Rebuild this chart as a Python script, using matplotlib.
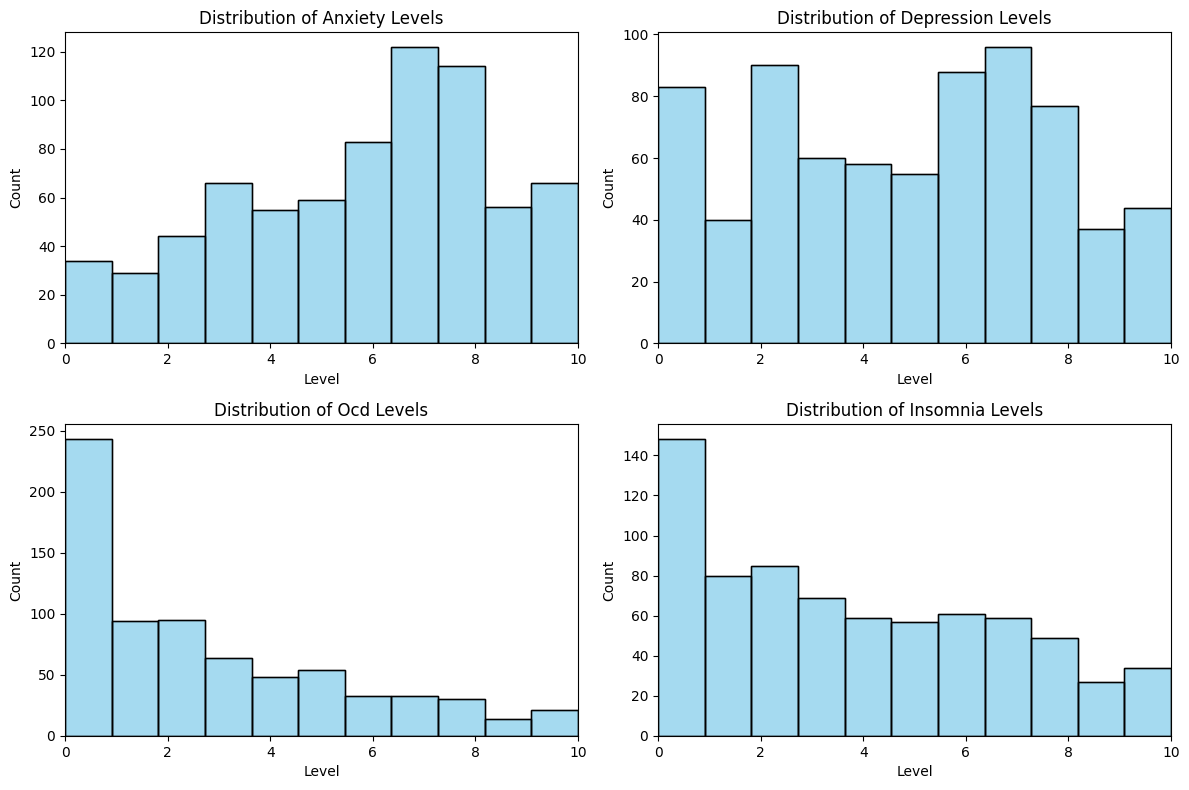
import numpy as np
import matplotlib
matplotlib.use('Agg')
import matplotlib.pyplot as plt

# Histogram counts per level bin (11 bins over 0-10)
anxiety_counts = [34, 29, 44, 66, 55, 59, 83, 122, 114, 56, 66]
depression_counts = [83, 40, 90, 60, 58, 55, 88, 96, 77, 37, 44]
ocd_counts = [243, 94, 95, 64, 48, 54, 33, 33, 30, 14, 21]
insomnia_counts = [148, 80, 85, 69, 59, 57, 61, 59, 49, 27, 34]

conditions = ['Anxiety', 'Depression', 'Ocd', 'Insomnia']
all_counts = [anxiety_counts, depression_counts, ocd_counts, insomnia_counts]

level_min, level_max = 0, 10

fig, axes = plt.subplots(2, 2, figsize=(11.89, 7.9), dpi=100)

for ax, name, counts in zip(axes.flat, conditions, all_counts):
    edges = np.linspace(level_min, level_max, len(counts) + 1)
    ax.bar(edges[:-1], counts, width=np.diff(edges), align='edge',
           color='skyblue', alpha=0.75, edgecolor='black', linewidth=1)
    # draw edges again fully opaque
    ax.bar(edges[:-1], counts, width=np.diff(edges), align='edge',
           fill=False, edgecolor='black', linewidth=1)
    ax.set_xlim(level_min, level_max)
    ax.set_title(f'Distribution of {name} Levels')
    ax.set_xlabel('Level')
    ax.set_ylabel('Count')

# match the reference's axes placement
fig.subplots_adjust(left=0.0547, right=0.9849, top=0.9595, bottom=0.0684,
                    wspace=0.156, hspace=0.26)
plt.savefig('out.png', dpi=100)
plt.close()
